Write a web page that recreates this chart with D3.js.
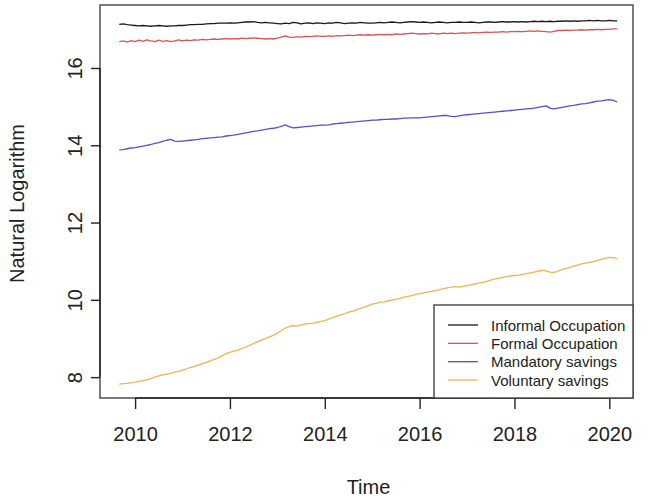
<!DOCTYPE html>
<html>
<head>
<meta charset="utf-8">
<script src="https://cdn.jsdelivr.net/npm/d3@7"></script>
<style>
  html, body { margin: 0; padding: 0; background: #fff; }
  svg { display: block; font-family: "Liberation Sans", Arial, sans-serif; }
</style>
</head>
<body>
<svg id="chart" width="650" height="499"></svg>
<script>
// Monthly series, Sep 2009 .. Mar 2020
const startYear = 2009;
const startMonth = 9; // September
const informal = [
  17.13,17.14,17.12,17.11,
  17.10,17.09,17.10,17.09,17.08,17.09,17.10,17.09,17.08,17.09,17.09,17.10,
  17.10,17.11,17.12,17.12,17.13,17.13,17.14,17.15,17.15,17.16,17.16,17.16,
  17.17,17.16,17.17,17.18,17.19,17.19,17.20,17.18,17.17,17.18,17.17,17.16,
  17.15,17.14,17.16,17.15,17.18,17.17,17.14,17.16,17.17,17.15,17.17,17.16,
  17.15,17.17,17.16,17.18,17.17,17.15,17.16,17.17,17.16,17.18,17.17,17.16,
  17.16,17.17,17.18,17.17,17.18,17.19,17.18,17.17,17.18,17.19,17.20,17.19,
  17.18,17.19,17.18,17.17,17.18,17.19,17.18,17.17,17.18,17.18,17.19,17.18,
  17.18,17.19,17.18,17.17,17.18,17.19,17.19,17.18,17.19,17.20,17.19,17.19,
  17.20,17.19,17.20,17.19,17.20,17.21,17.20,17.21,17.20,17.21,17.20,17.21,
  17.21,17.22,17.21,17.22,17.21,17.22,17.22,17.23,17.22,17.23,17.22,17.22,
  17.23,17.22,17.22
];
const formal = [
  16.68,16.70,16.67,16.71,
  16.68,16.72,16.69,16.73,16.70,16.68,16.72,16.69,16.71,16.68,16.70,16.73,
  16.70,16.72,16.71,16.73,16.72,16.74,16.73,16.74,16.75,16.74,16.75,16.76,
  16.75,16.76,16.75,16.77,16.76,16.77,16.78,16.77,16.76,16.75,16.76,16.75,
  16.77,16.80,16.83,16.80,16.79,16.81,16.80,16.82,16.81,16.82,16.83,16.82,
  16.82,16.83,16.82,16.84,16.83,16.84,16.85,16.84,16.85,16.86,16.85,16.86,
  16.85,16.86,16.87,16.86,16.87,16.86,16.88,16.87,16.88,16.89,16.90,16.89,
  16.88,16.89,16.88,16.90,16.89,16.88,16.90,16.89,16.90,16.89,16.90,16.91,
  16.90,16.91,16.92,16.91,16.92,16.93,16.92,16.93,16.93,16.94,16.93,16.94,
  16.94,16.95,16.94,16.95,16.96,16.95,16.96,16.95,16.94,16.93,16.95,16.97,
  16.97,16.98,16.97,16.98,16.98,16.99,16.98,16.99,16.99,17.00,16.99,17.00,
  17.00,17.01,17.01
];
const mandatory = [
  13.88,13.89,13.91,13.93,
  13.94,13.96,13.98,14.00,14.02,14.05,14.07,14.10,14.13,14.15,14.11,14.10,
  14.11,14.12,14.13,14.14,14.15,14.17,14.18,14.19,14.20,14.21,14.22,14.24,
  14.25,14.26,14.28,14.30,14.32,14.34,14.36,14.37,14.39,14.41,14.43,14.44,
  14.46,14.49,14.53,14.48,14.45,14.46,14.47,14.48,14.49,14.50,14.51,14.52,
  14.52,14.53,14.55,14.56,14.57,14.58,14.59,14.60,14.61,14.62,14.63,14.64,
  14.65,14.65,14.66,14.67,14.67,14.68,14.68,14.69,14.70,14.70,14.71,14.71,
  14.71,14.72,14.73,14.74,14.75,14.76,14.77,14.77,14.75,14.74,14.76,14.78,
  14.79,14.80,14.81,14.82,14.83,14.84,14.85,14.86,14.87,14.88,14.89,14.90,
  14.91,14.92,14.93,14.94,14.95,14.96,14.98,15.00,15.02,14.96,14.94,14.96,
  14.98,15.00,15.02,15.03,15.05,15.07,15.08,15.10,15.12,15.14,15.15,15.17,
  15.18,15.16,15.12
];
const voluntary = [
  7.82,7.83,7.84,7.86,
  7.87,7.89,7.91,7.93,7.96,8.00,8.03,8.06,8.08,8.10,8.13,8.15,
  8.18,8.21,8.25,8.28,8.31,8.35,8.38,8.42,8.46,8.50,8.55,8.60,
  8.64,8.67,8.70,8.74,8.78,8.82,8.87,8.92,8.96,9.00,9.04,9.08,
  9.14,9.20,9.27,9.31,9.33,9.32,9.35,9.37,9.39,9.40,9.42,9.44,
  9.46,9.50,9.54,9.58,9.61,9.64,9.68,9.71,9.74,9.78,9.81,9.85,
  9.89,9.91,9.94,9.95,9.97,9.99,10.01,10.04,10.07,10.09,10.11,10.14,
  10.16,10.18,10.20,10.22,10.24,10.26,10.29,10.31,10.33,10.34,10.33,10.35,
  10.37,10.39,10.41,10.43,10.45,10.48,10.51,10.54,10.56,10.58,10.60,10.62,
  10.63,10.64,10.66,10.68,10.70,10.72,10.74,10.76,10.75,10.72,10.71,10.74,
  10.78,10.81,10.84,10.87,10.90,10.93,10.95,10.97,10.99,11.02,11.05,11.08,
  11.10,11.09,11.06
];
const seriesNames = ["Informal Occupation", "Formal Occupation", "Mandatory savings", "Voluntary savings"];
const seriesColors = ["#1a1a1a", "#e05252", "#4f4fe0", "#f2b24e"];
const xTicks = [2010, 2012, 2014, 2016, 2018, 2020];
const yTicks = [8, 10, 12, 14, 16];
const xLabel = "Time";
const yLabel = "Natural Logarithm";

const seriesValues = [informal, formal, mandatory, voluntary];
const timeOf = i => startYear + (startMonth - 1) / 12 + i / 12;

const svg = d3.select("#chart");
const box = { left: 100, right: 633, top: 5, bottom: 398 };

const x = d3.scaleLinear().domain([2009.26, 2020.5]).range([box.left, box.right]);
const y = d3.scaleLinear().domain([7.46, 17.63]).range([box.bottom, box.top]);

// lines
const line = d3.line().x((d, i) => x(timeOf(i))).y(d => y(d));
seriesValues.forEach((vals, k) => {
  svg.append("path")
    .datum(vals)
    .attr("d", line)
    .attr("fill", "none")
    .attr("stroke", seriesColors[k])
    .attr("stroke-width", 1.3)
    .attr("stroke-linejoin", "round");
});

// plot box
svg.append("rect")
  .attr("x", box.left).attr("y", box.top)
  .attr("width", box.right - box.left).attr("height", box.bottom - box.top)
  .attr("fill", "none").attr("stroke", "#444").attr("stroke-width", 1.4);

// y axis
const yAxis = d3.axisLeft(y).tickValues(yTicks).tickSize(9).tickPadding(6).tickFormat(d3.format("d"));
const gy = svg.append("g").attr("transform", `translate(${box.left},0)`).call(yAxis);
gy.select(".domain").attr("d", `M0,${y(yTicks[0])}V${y(yTicks[yTicks.length - 1])}`).attr("stroke", "#222").attr("stroke-width", 1.4);
gy.selectAll(".tick line").attr("stroke", "#222").attr("stroke-width", 1.4);
gy.selectAll(".tick text")
  .attr("font-size", 20).attr("fill", "#222")
  .attr("font-family", "Liberation Sans, Arial, sans-serif")
  .attr("text-anchor", "middle")
  .attr("dy", null)
  .attr("x", 0)
  .attr("transform", "translate(-25,0) rotate(-90)")
  .attr("dominant-baseline", "central");

// x axis
const xAxis = d3.axisBottom(x).tickValues(xTicks).tickSize(11).tickPadding(18).tickFormat(d3.format("d"));
const gx = svg.append("g").attr("transform", `translate(0,${box.bottom})`).call(xAxis);
gx.select(".domain").attr("d", `M${x(xTicks[0])},0H${x(xTicks[xTicks.length - 1])}`).attr("stroke", "#222").attr("stroke-width", 1.4);
gx.selectAll(".tick line").attr("stroke", "#222").attr("stroke-width", 1.4);
gx.selectAll(".tick text")
  .attr("font-size", 20).attr("fill", "#222")
  .attr("font-family", "Liberation Sans, Arial, sans-serif");

// axis titles
svg.append("text")
  .attr("x", (box.left + box.right) / 2 + 2).attr("y", 494)
  .attr("text-anchor", "middle").attr("font-size", 20).attr("fill", "#222")
  .text(xLabel);
svg.append("text")
  .attr("transform", `translate(24,${(box.top + box.bottom) / 2 + 2}) rotate(-90)`)
  .attr("text-anchor", "middle").attr("font-size", 20).attr("fill", "#222")
  .text(yLabel);

// legend
const lg = { left: 434, top: 305, right: box.right, bottom: box.bottom };
svg.append("rect")
  .attr("x", lg.left).attr("y", lg.top)
  .attr("width", lg.right - lg.left).attr("height", lg.bottom - lg.top)
  .attr("fill", "#fff").attr("stroke", "#444").attr("stroke-width", 1.4);
const rowY = d3.scaleLinear().domain([0, 3]).range([325, 380]);
seriesNames.forEach((name, k) => {
  svg.append("line")
    .attr("x1", 448).attr("x2", 478)
    .attr("y1", rowY(k)).attr("y2", rowY(k))
    .attr("stroke", seriesColors[k]).attr("stroke-width", 1.3);
  svg.append("text")
    .attr("x", 491).attr("y", rowY(k))
    .attr("dominant-baseline", "central")
    .attr("font-size", 15).attr("fill", "#222")
    .text(name);
});
</script>
</body>
</html>
